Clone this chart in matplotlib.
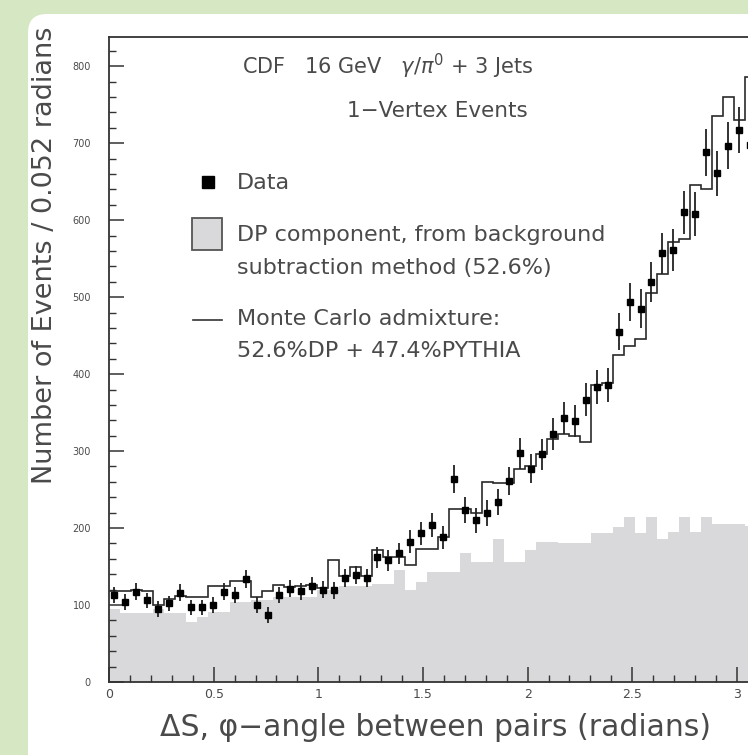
import numpy as np
import matplotlib
matplotlib.use("Agg")
import matplotlib.pyplot as plt
from matplotlib.patches import FancyBboxPatch, Rectangle
from matplotlib.lines import Line2D
from matplotlib.ticker import MultipleLocator, FormatStrFormatter

# bin width pi/60 = 0.052 rad, only bins 0..58 are visible in the crop
bin_width = np.pi / 60
n_bins = 59

# data points (events per bin) and their errors
data = [113, 104, 117, 106, 95, 102, 116, 97, 97, 100,
        117, 113, 134, 100, 87, 113, 121, 118, 125, 120,
        119, 135, 139, 135, 162, 158, 167, 182, 193, 204,
        188, 264, 223, 210, 220, 234, 261, 297, 277, 296,
        322, 343, 339, 367, 383, 386, 455, 494, 485, 520,
        557, 561, 610, 608, 688, 661, 697, 717, 698]
data_err = [11, 10, 11, 10, 10, 10, 11, 10, 10, 10,
            11, 11, 12, 10, 10, 11, 11, 11, 11, 11,
            11, 12, 12, 12, 14, 14, 14, 15, 15, 16,
            15, 18, 17, 16, 17, 17, 18, 20, 19, 20,
            21, 21, 21, 22, 22, 22, 24, 25, 25, 26,
            27, 27, 28, 28, 30, 29, 30, 30, 30]

# Monte Carlo admixture histogram
mc = [118, 118, 120, 118, 100, 108, 112, 110, 110, 125,
      125, 131, 131, 110, 118, 126, 124, 125, 126, 122,
      158, 138, 150, 138, 172, 162, 162, 152, 173, 173,
      188, 225, 225, 220, 260, 258, 258, 277, 280, 296,
      316, 322, 320, 312, 386, 388, 425, 436, 446, 505,
      530, 572, 575, 646, 640, 735, 760, 730, 786]

# DP component from background subtraction
dp = [95, 89, 89, 89, 95, 89, 89, 78, 84, 91,
      91, 104, 104, 106, 106, 110, 110, 110, 110, 119,
      119, 125, 125, 125, 127, 127, 145, 119, 130, 143,
      143, 143, 167, 156, 156, 186, 156, 156, 171, 182,
      182, 180, 180, 180, 193, 193, 201, 214, 193, 214,
      186, 195, 214, 195, 214, 205, 205, 205, 203]

edges = np.arange(n_bins + 1) * bin_width
centers = (edges[:-1] + edges[1:]) / 2

W, H = 748, 755
txt_col = '#4a4a4a'
grey = '#d9d9db'

fig = plt.figure(figsize=(W / 100, H / 100), dpi=100)
fig.patch.set_facecolor('#d6e7c3')

# white paper panel on the green background
panel = FancyBboxPatch((28 / W, -0.05), 1.1, 1 - 14 / H + 0.05,
                       boxstyle="round,pad=0,rounding_size=0.025",
                       transform=fig.transFigure, facecolor='white',
                       edgecolor='none', zorder=-10)
fig.patches.append(panel)

# axes in pixel units: left 109, right 748 (cropped), top 37, bottom 682
ax = fig.add_axes([109 / W, 1 - 682 / H, (W - 109) / W, (682 - 37) / H])
ax.set_facecolor('white')

ax.stairs(dp, edges, fill=True, color=grey, zorder=1)
ax.stairs(mc, edges, baseline=None, color='#2a2a2a', linewidth=1.2, zorder=2)
ax.errorbar(centers, data, yerr=data_err, xerr=0.012, fmt='s', ms=4,
            color='black', ecolor='#222222', elinewidth=1.3, capsize=0, zorder=3)

ax.set_xlim(0, (W - 109) / 209.3)
ax.set_ylim(0, 838)

ax.spines['right'].set_visible(False)
for s in ['left', 'bottom', 'top']:
    ax.spines[s].set_color('#333333')
    ax.spines[s].set_linewidth(1.3)

ax.xaxis.set_major_locator(MultipleLocator(0.5))
ax.xaxis.set_minor_locator(MultipleLocator(0.1))
ax.xaxis.set_major_formatter(FormatStrFormatter('%g'))
ax.yaxis.set_major_locator(MultipleLocator(100))
ax.yaxis.set_minor_locator(MultipleLocator(20))
ax.tick_params(which='both', direction='in', color='#333333', top=False, right=False)
ax.tick_params(which='major', length=11, width=1.1)
ax.tick_params(which='minor', length=5, width=1.0)
ax.tick_params(axis='x', labelsize=9, labelcolor=txt_col, pad=4)
ax.tick_params(axis='y', labelsize=7, labelcolor=txt_col, pad=13)

# axis titles
fig.text(436 / W, 1 - 728 / H, 'ΔS, φ−angle between pairs (radians)',
         ha='center', va='center', fontsize=21.5, color=txt_col)
fig.text(45 / W, 1 - 255 / H, 'Number of Events / 0.052 radians',
         ha='center', va='center', rotation=90, fontsize=19.5, color=txt_col)

# headers
fig.text(388 / W, 1 - 66 / H, r'CDF   16 GeV   $\gamma/\pi^0$ + 3 Jets',
         ha='center', va='center', fontsize=15, color=txt_col)
fig.text(437 / W, 1 - 111 / H, '1−Vertex Events',
         ha='center', va='center', fontsize=15.5, color=txt_col)

# legend, drawn by hand
fig.add_artist(Line2D([208 / W], [1 - 182 / H], marker='s', ms=8,
                      color='black', transform=fig.transFigure))
fig.add_artist(Rectangle((192 / W, 1 - 250 / H), 30 / W, 32 / H,
                         transform=fig.transFigure, facecolor=grey,
                         edgecolor='#555555', linewidth=1.3))
fig.add_artist(Line2D([193 / W, 222 / W], [1 - 320 / H, 1 - 320 / H],
                      color='#333333', linewidth=1.2, transform=fig.transFigure))

legend_lines = [
    (183, 'Data'),
    (235, 'DP component, from background'),
    (268, 'subtraction method (52.6%)'),
    (319, 'Monte Carlo admixture:'),
    (351, '52.6%DP + 47.4%PYTHIA'),
]
for y, s in legend_lines:
    fig.text(237 / W, 1 - y / H, s, ha='left', va='center',
             fontsize=16, color=txt_col)

fig.savefig('out.png', dpi=100, facecolor=fig.get_facecolor())
